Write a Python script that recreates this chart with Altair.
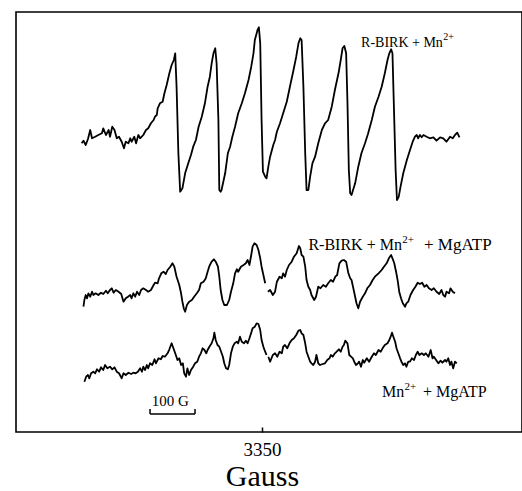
import altair as alt
import pandas as pd

# EPR first-derivative spectra, (magnetic field in Gauss, signal in arbitrary units relative to each trace baseline)
TOP = [(2949,-6.3),(2953,-3.7),(2958,-8),(2963,-2),(2968,7),(2972,-1.3),(2979,0.3),(2986,2),(2994,3.7),(2997,8.7),
       (3003,2),(3009,7),(3012,0.3),(3017,10.3),(3022,7),(3027,-1.3),(3032,0.3),(3038,-4.7),(3043,-11.3),(3047,-4.7),
       (3053,-6.3),(3057,-1.3),(3060,-4.7),(3066,0.3),(3070,-6.3),(3075,2),(3079,-1.3),(3086,2),(3092,7),(3097,8.7),
       (3103,13.7),(3109,17),(3112,20.3),(3116,22),(3118,28.7),(3123,33.7),(3129,35.3),(3133,43.7),(3138,52),(3144,63.7),
       (3149,72),(3154,77),(3157,83.7),(3160,50.3),(3164,-16.3),(3168,-54.7),(3173,-51.3),(3179,-36.3),(3186,-26.3),(3192,-18),
       (3197,-9.7),(3203,-3),(3209,10.3),(3216,20.3),(3223,33.7),(3229,50.3),(3234,60.3),(3238,73.7),(3242,83.7),(3246,88.7),
       (3249,73.7),(3253,17),(3255,-53),(3258,-54.7),(3260,-53),(3268,-36.3),(3274,-16.3),(3279,-9.7),(3284,0.3),(3290,10.3),
       (3297,23.7),(3305,33.7),(3312,43.7),(3320,57),(3326,70.3),(3331,83.7),(3334,97),(3340,107),(3343,109.7),(3346,93.7),
       (3349,17),(3352,-34.7),(3357,-39.7),(3360,-41.3),(3364,-29.7),(3368,-19.7),(3375,-8),(3379,-3),(3383,5.3),(3390,13.7),
       (3397,23.7),(3405,35.3),(3412,50.3),(3420,67),(3426,80.3),(3431,93.7),(3435,98.7),(3438,97),(3442,50.3),(3446,-16.3),
       (3449,-53),(3453,-53),(3457,-39.7),(3462,-26.3),(3468,-19.7),(3475,-6.3),(3483,7),(3490,13.7),(3497,17),(3505,30.3),
       (3512,47),(3520,63.7),(3525,77),(3529,88.7),(3533,91),(3537,83.7),(3540,33.7),(3543,-33),(3546,-56.3),(3549,-58),
       (3557,-46.3),(3564,-29.7),(3571,-16.3),(3579,-6.3),(3586,3.7),(3594,17),(3601,30.3),(3609,40.3),(3616,50.3),(3623,63.7),
       (3629,77),(3633,83.7),(3637,87.7),(3640,83.7),(3643,33.7),(3647,-33),(3650,-63),(3654,-59.7),(3658,-49.7),(3664,-36.3),
       (3672,-23),(3679,-13),(3685,-4.7),(3690,0.3),(3694,2),(3697,-1.3),(3701,2),(3705,-0.3),(3709,2),(3716,0.3),
       (3723,-1.3),(3731,-0.3),(3738,-3.7),(3746,-0.3),(3753,-1.3),(3760,-4.7),(3768,0.3),(3774,-1.3),(3779,2),(3784,4.3),
       (3789,-0.3)]

MID_A = [(2953,-9.7),(2955,-3),(2958,2),(2961,-1.3),(2964,3.7),(2968,0.3),(2972,5.3),(2975,2),(2980,3.7),(2986,2),
         (2992,4.3),(2997,3),(3003,6.3),(3007,3.7),(3012,7),(3016,8.7),(3020,4.3),(3025,7),(3031,5.3),(3037,3),
         (3042,-4.7),(3047,-1.3),(3052,0.3),(3057,2),(3060,-1.3),(3064,3.7),(3068,0.3),(3072,5.3),(3077,2),(3081,7),
         (3086,8.7),(3092,7),(3097,5.3),(3103,7),(3109,12),(3112,14.3),(3118,13.7),(3121,18.7),(3126,23.7),(3131,25.3),
         (3136,23),(3140,27),(3146,30.3),(3151,33.7),(3155,30.3),(3160,20.3),(3166,12),(3170,3.7),(3173,-4.7),(3176,-11.3),
         (3179,-14.7),(3183,-8),(3188,-4.7),(3194,-3),(3199,0.3),(3205,3.7),(3210,7),(3214,13.7),(3220,15.3),(3225,18.7),
         (3229,25.3),(3233,31),(3238,35.3),(3243,37.7),(3247,35.3),(3252,30.3),(3255,20.3),(3258,7),(3262,-3),(3266,-8),
         (3272,-8),(3277,-3),(3281,5.3),(3286,13.7),(3290,23.7),(3294,27.7),(3297,25.3),(3303,30.3),(3309,32),(3314,33.7),
         (3318,37),(3322,32),(3326,42),(3329,50.3),(3333,53.7),(3338,52),(3342,47),(3346,38.7),(3349,30.3),(3353,22),
         (3357,13.7)]
MID_B = [(3363,5.3),(3368,7),(3374,2),(3379,5.3),(3383,15.3),(3389,20.3),(3394,18.7),(3397,23.7),(3401,20.3),(3405,27),
         (3410,32),(3416,35.3),(3421,40.3),(3427,43.7),(3432,51),(3435,48.7),(3438,42),(3442,40.3),(3446,30.3),(3449,17),
         (3453,10.3),(3457,7),(3460,2),(3466,-3),(3470,0.3),(3475,10.3),(3480,8.7),(3486,12),(3492,10.3),(3497,13.7),
         (3503,17),(3508,15.3),(3513,20.3),(3517,22),(3522,33.7),(3527,36.3),(3532,37),(3537,35.3),(3542,23.7),(3546,18.7),
         (3549,17),(3553,8.7),(3557,0.3),(3560,-6.3),(3564,-11.3),(3568,-4.7),(3574,0.3),(3579,3.7),(3584,8.7),(3590,12),
         (3596,17),(3601,20.3),(3609,23.7),(3616,27),(3621,30.3),(3627,33.7),(3632,38.7),(3637,42),(3640,38.7),(3644,33.7),
         (3648,25.3),(3652,15.3),(3655,5.3),(3659,-1.3),(3663,-6.3),(3668,-9.7),(3671,-6.3),(3675,-4.7),(3680,2),(3686,7),
         (3691,10.3),(3696,14.3),(3701,13),(3706,14.3),(3711,10.3),(3716,12),(3721,8.7),(3727,7),(3732,8.7),(3738,5.3),
         (3744,3),(3749,7),(3753,2),(3757,0.3),(3760,5.3),(3766,3.7),(3769,8.7),(3774,5.3),(3779,3.7)]

BOT_A = [(2955,-11.7),(2959,-6.7),(2963,-5),(2966,-8.3),(2970,-3.3),(2975,-1.7),(2979,-3.3),(2983,0.7),(2988,-1.7),(2992,2.7),
         (2997,0),(3001,5),(3006,1.7),(3012,3.3),(3017,0.7),(3022,2.7),(3027,-1.7),(3032,-3.3),(3038,-8.3),(3042,-3.3),
         (3047,-5),(3053,-2.7),(3059,-4),(3064,-2.7),(3069,-3.3),(3074,-1.7),(3079,1.7),(3083,-1.7),(3086,3.3),(3090,0),
         (3094,5),(3097,1.7),(3101,6.7),(3106,5),(3111,10.7),(3114,6.7),(3120,11.7),(3125,10.7),(3129,14),(3134,13.3),
         (3140,16.7),(3144,20.7),(3149,26.7),(3153,21.7),(3157,16.7),(3162,10),(3166,11.7),(3170,5),(3174,6.7),(3177,-3.3),
         (3181,-6.7),(3184,1.7),(3188,-5),(3192,0),(3197,3.3),(3201,6.7),(3206,8.3),(3210,13.3),(3214,16.7),(3218,21.7),
         (3222,20),(3226,16.7),(3229,20),(3233,23.3),(3238,26.7),(3242,31.7),(3244,37.3),(3247,30),(3251,25),(3255,23.3),
         (3259,18.3),(3263,13.3),(3266,6.7),(3270,1.7),(3274,0.7),(3277,5),(3281,16.7),(3285,23.3),(3289,26.7),(3294,28.3),
         (3297,26.7),(3301,33.3),(3305,28.3),(3310,26.7),(3314,29.3),(3318,26.7),(3322,31.7),(3326,37.3),(3329,41.7),(3334,43.3),
         (3338,46.7),(3342,46),(3346,40),(3349,30),(3353,23.3),(3357,18.3),(3360,15)]
BOT_B = [(3364,13.3),(3368,8.3),(3374,15),(3379,16.7),(3384,13.3),(3389,18.3),(3394,16.7),(3397,23.3),(3401,25),(3406,21.7),
         (3411,26.7),(3416,30),(3421,31.7),(3426,35),(3431,39.3),(3435,40),(3438,36.7),(3442,35),(3446,26.7),(3449,18.3),
         (3453,13.3),(3457,8.3),(3460,6.7),(3464,5),(3468,8.3),(3471,15),(3475,6.7),(3479,5),(3485,6),(3490,6.7),
         (3495,10),(3500,11.7),(3503,15),(3507,13.3),(3512,16.7),(3516,18.3),(3521,20.7),(3525,18.3),(3529,23.3),(3532,25),
         (3535,29.3),(3540,26.7),(3544,15),(3548,13.3),(3552,11.7),(3555,8.3),(3559,5),(3563,6.7),(3566,8.3),(3570,3.3),
         (3574,10),(3577,7.3),(3583,11.7),(3588,8.3),(3594,13.3),(3599,16.7),(3603,15),(3609,20),(3614,18.3),(3618,21.7),
         (3623,25),(3629,26.7),(3633,30),(3636,33.3),(3639,37.3),(3642,33.3),(3646,28.3),(3649,21.7),(3653,16.7),(3657,11.7),
         (3660,8.3),(3664,5),(3668,6.7),(3671,3.3),(3675,8.3),(3679,8.3),(3683,11.7),(3688,10),(3692,15),(3696,18.3),
         (3700,15),(3705,16.7),(3710,15),(3714,16.7),(3720,13.3),(3725,20),(3729,11.7),(3732,13.3),(3737,10),(3742,6.7),
         (3747,9.3),(3751,7.3),(3757,10),(3760,8.3),(3764,11.7),(3768,5),(3771,8.3),(3775,1.7),(3779,8.3),(3783,6.7)]

# vertical stacking offsets of the three spectra (a.u.)
OFFSETS = {"top": 295, "mid": 135, "bot": 62}
SCALEBAR_START = 3101
SCALEBAR_LEN = 100
TICK_VALUES = [3350]

rows = []
for piece, trace, pts in [("top", "top", TOP), ("mid_a", "mid", MID_A), ("mid_b", "mid", MID_B),
                          ("bot_a", "bot", BOT_A), ("bot_b", "bot", BOT_B)]:
    for g, a in pts:
        rows.append({"gauss": g, "signal": a + OFFSETS[trace], "piece": piece})
df = pd.DataFrame(rows)

FONT = "Liberation Serif"
xscale = alt.Scale(domain=[2803, 3928], nice=False, zero=False)
yscale = alt.Scale(domain=[0, 420], nice=False, zero=False)

lines = alt.Chart(df).mark_line(color="black", strokeWidth=1.8, strokeJoin="round").encode(
    x=alt.X("gauss:Q", scale=xscale,
            axis=alt.Axis(values=TICK_VALUES, format="d", tickSize=5, offset=-5, domain=False, grid=False,
                          tickColor="black", tickWidth=1.5, labelFont=FONT, labelFontSize=19,
                          labelColor="black", labelPadding=8, title="Gauss", titleFont=FONT,
                          titleFontSize=30, titleFontWeight="normal", titleColor="black", titlePadding=2,
                          titleX=246, titleAlign="center")),
    y=alt.Y("signal:Q", scale=yscale, axis=None),
    detail="piece:N",
    order="gauss:Q",
)

one = pd.DataFrame({"k": [0]})


def txt(text, g, y, size, align="left"):
    return alt.Chart(one).mark_text(text=text, align=align, baseline="alphabetic", font=FONT,
                                    fontSize=size, color="black").encode(
        x=alt.datum(g, scale=xscale), y=alt.datum(y, scale=yscale))


labels = [
    txt("R-BIRK + Mn", 3752, 385, 14, "right"),
    txt("2+", 3753, 392, 10),
    txt("R-BIRK + Mn", 3661, 182, 16, "right"),
    txt("2+", 3662, 189, 11),
    txt("+ MgATP", 3710, 182, 17),
    txt("Mn", 3666, 35, 16, "right"),
    txt("2+", 3667, 42, 11),
    txt("+ MgATP", 3708, 35, 16),
    txt("100 G", 3105, 26, 15),
]

bar = alt.Chart(one).mark_rule(color="black", strokeWidth=1.5).encode(
    x=alt.datum(SCALEBAR_START, scale=xscale), x2=alt.datum(SCALEBAR_START + SCALEBAR_LEN),
    y=alt.datum(18, scale=yscale))
bar_l = alt.Chart(one).mark_rule(color="black", strokeWidth=1.5).encode(
    x=alt.datum(SCALEBAR_START, scale=xscale), y=alt.datum(18, scale=yscale), y2=alt.datum(23))
bar_r = alt.Chart(one).mark_rule(color="black", strokeWidth=1.5).encode(
    x=alt.datum(SCALEBAR_START + SCALEBAR_LEN, scale=xscale), y=alt.datum(18, scale=yscale), y2=alt.datum(23))

chart = alt.layer(lines, bar, bar_l, bar_r, *labels).properties(
    width=506, height=420,
    padding={"left": 16, "top": 12, "right": 0, "bottom": 59},
    autosize=alt.AutoSizeParams(type="none"),
    background="white",
).configure_view(stroke="black", strokeWidth=1.6)

chart.save("out.html", embed_options={"renderer": "svg", "actions": False})
